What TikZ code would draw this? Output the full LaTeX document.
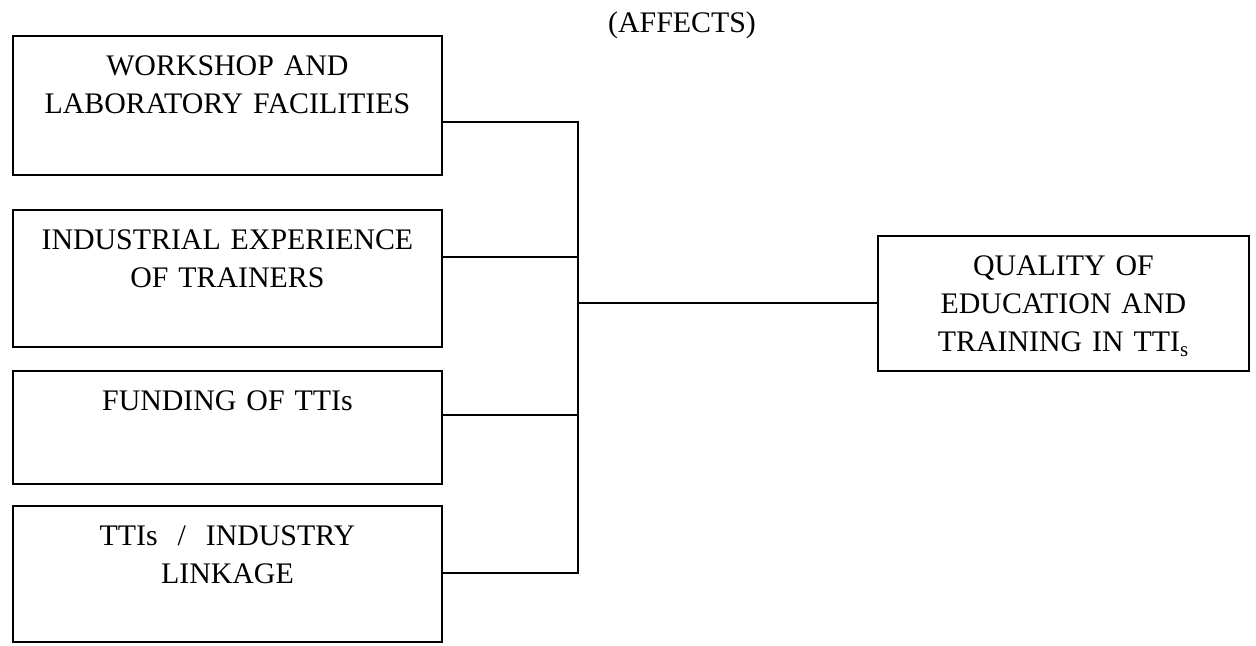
\documentclass[tikz,border=0pt]{standalone}
\usepackage{fontspec}
\setmainfont{Liberation Serif}
\usepackage{tikz}
\tikzstyle{factor} = [rectangle, draw=black, line width=1.1pt, anchor=north west, text width=8.58cm, inner xsep=0pt, inner ysep=0pt, align=center, text height=0.8cm, font=\fontsize{17}{21.5}\selectfont]
\tikzstyle{outcome} = [factor, text width=7.42cm]
\tikzstyle{link} = [line width=1.1pt]

\begin{document}
\begin{tikzpicture}[x=0.02cm, y=-0.02cm]
\useasboundingbox (0,0) rectangle (1256,645);
\node (affects) [font=\fontsize{17}{21.5}\selectfont] at (682,25) {(AFFECTS)};
\node (workshop) [factor, text depth=1.98cm] at (12,35) {WORKSHOP AND\\LABORATORY FACILITIES};
\node (experience) [factor, text depth=1.94cm] at (12,209) {INDUSTRIAL EXPERIENCE\\OF TRAINERS};
\node (funding) [factor, text depth=1.46cm] at (12,370) {FUNDING OF TTIs};
\node (linkage) [factor, text depth=1.92cm] at (12,505) {TTIs \ / \ INDUSTRY\\LINKAGE};
\node (quality) [outcome, text depth=1.90cm] at (877,235) {QUALITY OF\\EDUCATION AND\\TRAINING IN TTI\textsubscript{s}};

% junction points on the bus
\coordinate (jw) at (578,122);
\coordinate (je) at (578,257);
\coordinate (jf) at (578,415);
\coordinate (jl) at (578,573);

\draw [link] (jw -| workshop.east) -- (jw) -- (jl) -- (jl -| linkage.east);
\draw [link] (je -| experience.east) -- (je);
\draw [link] (jf -| funding.east) -- (jf);
\draw [link] (quality.west -| jw) -- (quality.west);
\end{tikzpicture}
\end{document}
